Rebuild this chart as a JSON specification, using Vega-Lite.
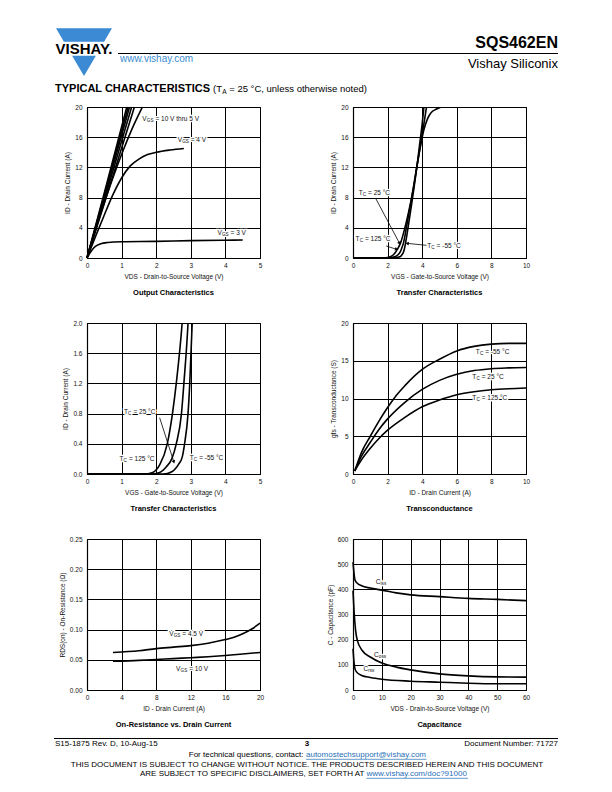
{
"$schema": "https://vega.github.io/schema/vega-lite/v6.json",
"padding": 0,
"background": "white",
"columns": 2,
"spacing": {"row": 65, "column": 93},
"bounds": "flush",
"datasets": {
"out": [
{"s":"10","x":0,"y":0},{"s":"10","x":0.58,"y":10},{"s":"10","x":1.15,"y":20},
{"s":"9","x":0,"y":0},{"s":"9","x":0.6,"y":10},{"s":"9","x":1.19,"y":20},
{"s":"8","x":0,"y":0},{"s":"8","x":0.62,"y":10},{"s":"8","x":1.23,"y":20},
{"s":"7","x":0,"y":0},{"s":"7","x":0.65,"y":10},{"s":"7","x":1.29,"y":20},
{"s":"6","x":0,"y":0},{"s":"6","x":0.69,"y":10},{"s":"6","x":1.37,"y":20},
{"s":"5","x":0,"y":0},{"s":"5","x":0.35,"y":5.2},{"s":"5","x":0.7,"y":10},{"s":"5","x":1.05,"y":14.3},{"s":"5","x":1.35,"y":17.6},{"s":"5","x":1.6,"y":20},
{"s":"4","x":0,"y":0},{"s":"4","x":0.25,"y":2.9},{"s":"4","x":0.5,"y":5.7},{"s":"4","x":0.75,"y":8.4},{"s":"4","x":1.0,"y":10.6},{"s":"4","x":1.25,"y":12.2},{"s":"4","x":1.5,"y":13.1},{"s":"4","x":1.75,"y":13.7},{"s":"4","x":2.0,"y":14.0},{"s":"4","x":2.4,"y":14.3},{"s":"4","x":2.8,"y":14.5},
{"s":"3","x":0,"y":0},{"s":"3","x":0.1,"y":0.75},{"s":"3","x":0.2,"y":1.35},{"s":"3","x":0.3,"y":1.7},{"s":"3","x":0.4,"y":1.9},{"s":"3","x":0.6,"y":2.05},{"s":"3","x":1.0,"y":2.15},{"s":"3","x":2.0,"y":2.2},{"s":"3","x":3.0,"y":2.3},{"s":"3","x":4.0,"y":2.35},{"s":"3","x":4.5,"y":2.38}
],
"outLab": [
{"x":1.6,"y":18.4,"pre":"V","sub":"GS","post":"= 10 V thru 5 V"},
{"x":2.62,"y":15.6,"pre":"V","sub":"GS","post":"= 4 V"},
{"x":3.77,"y":3.3,"pre":"V","sub":"GS","post":"= 3 V"}
],
"tr": [
{"s":"125","x":0,"y":0},{"s":"125","x":1.7,"y":0},{"s":"125","x":1.9,"y":0.02},{"s":"125","x":2.1,"y":0.12},{"s":"125","x":2.32,"y":0.4},{"s":"125","x":2.47,"y":0.8},{"s":"125","x":2.58,"y":1.2},{"s":"125","x":2.75,"y":2.0},{"s":"125","x":3.0,"y":4.0},{"s":"125","x":3.3,"y":7.0},{"s":"125","x":3.5,"y":9.3},{"s":"125","x":3.7,"y":12.2},{"s":"125","x":3.9,"y":14.8},{"s":"125","x":4.1,"y":17.0},{"s":"125","x":4.3,"y":18.4},{"s":"125","x":4.5,"y":19.2},{"s":"125","x":4.8,"y":19.7},{"s":"125","x":5.1,"y":20},
{"s":"25","x":0,"y":0},{"s":"25","x":1.9,"y":0},{"s":"25","x":2.1,"y":0.02},{"s":"25","x":2.3,"y":0.1},{"s":"25","x":2.45,"y":0.2},{"s":"25","x":2.58,"y":0.4},{"s":"25","x":2.73,"y":0.8},{"s":"25","x":2.8,"y":1.2},{"s":"25","x":2.92,"y":2.0},{"s":"25","x":3.1,"y":4.2},{"s":"25","x":3.3,"y":6.8},{"s":"25","x":3.5,"y":9.5},{"s":"25","x":3.7,"y":12.2},{"s":"25","x":3.9,"y":15.0},{"s":"25","x":4.1,"y":17.8},{"s":"25","x":4.25,"y":20},
{"s":"-55","x":0,"y":0},{"s":"-55","x":2.2,"y":0},{"s":"-55","x":2.45,"y":0.03},{"s":"-55","x":2.65,"y":0.13},{"s":"-55","x":2.75,"y":0.22},{"s":"-55","x":2.82,"y":0.4},{"s":"-55","x":2.92,"y":0.8},{"s":"-55","x":2.97,"y":1.2},{"s":"-55","x":3.04,"y":2.0},{"s":"-55","x":3.2,"y":4.3},{"s":"-55","x":3.4,"y":7.3},{"s":"-55","x":3.55,"y":9.7},{"s":"-55","x":3.7,"y":12.2},{"s":"-55","x":3.85,"y":15.0},{"s":"-55","x":4.0,"y":17.8},{"s":"-55","x":4.1,"y":20}
],
"trLab2": [
{"x":0.33,"y":8.57,"pre":"T","sub":"C","post":"= 25 °C"},
{"x":0.15,"y":2.56,"pre":"T","sub":"C","post":"= 125 °C"},
{"x":4.29,"y":1.6,"pre":"T","sub":"C","post":"= -55 °C"}
],
"trArr2": [
{"x":1.31,"y":7.9,"x2":2.69,"y2":1.94},
{"x":1.92,"y":1.59,"x2":2.52,"y2":1.15},
{"x":4.25,"y":1.68,"x2":3.13,"y2":1.94}
],
"trLab3": [
{"x":1.07,"y":0.815,"pre":"T","sub":"C","post":"= 25 °C"},
{"x":0.94,"y":0.2,"pre":"T","sub":"C","post":"= 125 °C"},
{"x":2.97,"y":0.21,"pre":"T","sub":"C","post":"= -55 °C"}
],
"trArr3": [
{"x":2.1,"y":0.745,"x2":2.51,"y2":0.16}
],
"gfs": [
{"s":"-55","x":0.1,"y":0.4},{"s":"-55","x":0.5,"y":2.9},{"s":"-55","x":1,"y":5.0},{"s":"-55","x":1.5,"y":7.0},{"s":"-55","x":2,"y":8.8},{"s":"-55","x":2.5,"y":10.4},{"s":"-55","x":3,"y":11.7},{"s":"-55","x":4,"y":13.85},{"s":"-55","x":5,"y":15.2},{"s":"-55","x":6,"y":16.3},{"s":"-55","x":7,"y":16.9},{"s":"-55","x":8,"y":17.2},{"s":"-55","x":9,"y":17.3},{"s":"-55","x":10,"y":17.3},
{"s":"25","x":0.1,"y":0.4},{"s":"25","x":0.5,"y":2.4},{"s":"25","x":1,"y":4.2},{"s":"25","x":1.5,"y":5.9},{"s":"25","x":2,"y":7.3},{"s":"25","x":3,"y":9.5},{"s":"25","x":4,"y":11.2},{"s":"25","x":5,"y":12.4},{"s":"25","x":6,"y":13.2},{"s":"25","x":7,"y":13.7},{"s":"25","x":8,"y":13.95},{"s":"25","x":9,"y":14.05},{"s":"25","x":10,"y":14.1},
{"s":"125","x":0.1,"y":0.4},{"s":"125","x":0.5,"y":1.9},{"s":"125","x":1,"y":3.4},{"s":"125","x":1.5,"y":4.7},{"s":"125","x":2,"y":5.8},{"s":"125","x":3,"y":7.5},{"s":"125","x":4,"y":8.9},{"s":"125","x":5,"y":9.8},{"s":"125","x":6,"y":10.5},{"s":"125","x":7,"y":10.9},{"s":"125","x":8,"y":11.15},{"s":"125","x":9,"y":11.3},{"s":"125","x":10,"y":11.4}
],
"gfsLab": [
{"x":7.1,"y":16.1,"pre":"T","sub":"C","post":"= -55 °C"},
{"x":6.9,"y":12.9,"pre":"T","sub":"C","post":"= 25 °C"},
{"x":6.9,"y":10.07,"pre":"T","sub":"C","post":"= 125 °C"}
],
"rds": [
{"s":"4.5","x":3,"y":0.0622},{"s":"4.5","x":6,"y":0.065},{"s":"4.5","x":8,"y":0.0685},{"s":"4.5","x":10,"y":0.071},{"s":"4.5","x":12,"y":0.0735},{"s":"4.5","x":14,"y":0.0775},{"s":"4.5","x":16,"y":0.0835},{"s":"4.5","x":17,"y":0.0875},{"s":"4.5","x":18,"y":0.093},{"s":"4.5","x":19,"y":0.1005},{"s":"4.5","x":20,"y":0.1106},
{"s":"10","x":3,"y":0.0475},{"s":"10","x":6,"y":0.049},{"s":"10","x":8,"y":0.0505},{"s":"10","x":10,"y":0.052},{"s":"10","x":12,"y":0.0535},{"s":"10","x":14,"y":0.055},{"s":"10","x":16,"y":0.057},{"s":"10","x":18,"y":0.0595},{"s":"10","x":20,"y":0.0622}
],
"rdsLab": [
{"x":9.5,"y":0.0928,"pre":"V","sub":"GS","post":"= 4.5 V"},
{"x":10.3,"y":0.0344,"pre":"V","sub":"GS","post":"= 10 V"}
],
"cap": [
{"s":"Ciss","x":0,"y":508},{"s":"Ciss","x":0.3,"y":470},{"s":"Ciss","x":0.7,"y":437},{"s":"Ciss","x":1.5,"y":424},{"s":"Ciss","x":3,"y":414},{"s":"Ciss","x":6,"y":405},{"s":"Ciss","x":10,"y":397},{"s":"Ciss","x":15,"y":386},{"s":"Ciss","x":20,"y":378},{"s":"Ciss","x":30,"y":371},{"s":"Ciss","x":40,"y":364},{"s":"Ciss","x":50,"y":360},{"s":"Ciss","x":60,"y":355},
{"s":"Coss","x":0,"y":395},{"s":"Coss","x":0.35,"y":317},{"s":"Coss","x":0.9,"y":237},{"s":"Coss","x":1.5,"y":197},{"s":"Coss","x":3.2,"y":157},{"s":"Coss","x":6,"y":131},{"s":"Coss","x":10,"y":107},{"s":"Coss","x":15,"y":91},{"s":"Coss","x":20,"y":80},{"s":"Coss","x":30,"y":64},{"s":"Coss","x":40,"y":56},{"s":"Coss","x":50,"y":52},{"s":"Coss","x":60,"y":51},
{"s":"Crss","x":0,"y":164},{"s":"Crss","x":0.3,"y":117},{"s":"Crss","x":0.7,"y":84},{"s":"Crss","x":1.3,"y":71},{"s":"Crss","x":3,"y":58},{"s":"Crss","x":6,"y":50},{"s":"Crss","x":10,"y":43},{"s":"Crss","x":20,"y":35},{"s":"Crss","x":30,"y":31},{"s":"Crss","x":40,"y":27},{"s":"Crss","x":50,"y":25},{"s":"Crss","x":60,"y":25}
],
"capLab": [
{"x":7.9,"y":431,"pre":"C","sub":"iss"},
{"x":7.3,"y":141,"pre":"C","sub":"oss"},
{"x":3.6,"y":84,"pre":"C","sub":"rss"}
]
},
"concat": [
{
"width": 173, "height": 1, "view": {"stroke": null},
"data": {"values": [{}]},
"layer": [
{"mark": {"type": "rule", "stroke": "white", "strokeWidth": 0.2}, "encoding": {"x": {"value": -86}, "x2": {"value": 526}, "y": {"value": -40}}},
{"mark": {"type": "point", "shape": "M-1,-0.852L1,-0.852L0.718,-0.373L-0.718,-0.373Z M-0.425,0.127L0.425,0.127L0,0.852Z", "size": 3136, "filled": true, "fill": "#3b8ad3", "opacity": 1, "strokeWidth": 0}, "encoding": {"x": {"value": -3}, "y": {"value": 11.15}}},
{"mark": {"type": "text", "text": "VISHAY.", "align": "center", "baseline": "alphabetic", "fontSize": 15, "fontWeight": "bold", "color": "#000"}, "encoding": {"x": {"value": -3}, "y": {"value": 13.3}}},
{"mark": {"type": "text", "text": "www.vishay.com", "align": "left", "baseline": "middle", "fontSize": 10, "color": "#3a8bd0"}, "encoding": {"x": {"value": 33}, "y": {"value": 18}}},
{"mark": {"type": "rule", "stroke": "#000", "strokeWidth": 1}, "encoding": {"x": {"value": 31}, "x2": {"value": 471}, "y": {"value": 12.5}}},
{"mark": {"type": "text", "text": "TYPICAL CHARACTERISTICS", "align": "left", "baseline": "middle", "fontSize": 11, "fontWeight": "bold", "color": "#000"}, "encoding": {"x": {"value": -32}, "y": {"value": 48}}},
{"mark": {"type": "text", "text": "(T", "align": "left", "baseline": "middle", "fontSize": 9.5, "color": "#000"}, "encoding": {"x": {"value": 126}, "y": {"value": 48}}},
{"mark": {"type": "text", "text": "A", "align": "left", "baseline": "middle", "fontSize": 6.5, "dx": 9.2, "dy": 2.5, "color": "#000"}, "encoding": {"x": {"value": 126}, "y": {"value": 48}}},
{"mark": {"type": "text", "text": "= 25 °C, unless otherwise noted)", "align": "left", "baseline": "middle", "fontSize": 9.5, "dx": 16.2, "color": "#000"}, "encoding": {"x": {"value": 126}, "y": {"value": 48}}}
]
},
{
"width": 173, "height": 1, "view": {"stroke": null},
"data": {"values": [{}]},
"layer": [
{"mark": {"type": "text", "text": "SQS462EN", "align": "right", "baseline": "alphabetic", "fontSize": 16, "fontWeight": "bold", "color": "#000"}, "encoding": {"x": {"value": 205}, "y": {"value": 6.7}}},
{"mark": {"type": "text", "text": "Vishay Siliconix", "align": "right", "baseline": "alphabetic", "fontSize": 13, "color": "#000"}, "encoding": {"x": {"value": 205}, "y": {"value": 26.7}}}
]
},
{
"width": 173, "height": 151,
"title": "Output Characteristics",
"encoding": {
"x": {"field": "x", "type": "quantitative", "scale": {"domain": [0, 5], "nice": false}, "axis": {"values": [0, 1, 2, 3, 4, 5], "title": "VDS - Drain-to-Source Voltage (V)"}},
"y": {"field": "y", "type": "quantitative", "scale": {"domain": [0, 20], "nice": false}, "axis": {"values": [0, 4, 8, 12, 16, 20], "title": "ID - Drain Current (A)"}}
},
"layer": [
{"data": {"name": "out"}, "mark": {"type": "line"}, "encoding": {"detail": {"field": "s"}}},
{"data": {"name": "outLab"}, "mark": {"type": "text", "align": "left", "baseline": "middle", "fontSize": 6.5, "fill": "white", "stroke": "white", "strokeWidth": 2.6}, "encoding": {"text": {"field": "pre"}}},
{"data": {"name": "outLab"}, "mark": {"type": "text", "align": "left", "baseline": "middle", "fontSize": 4.6, "dx": 4.5, "dy": 2, "fill": "white", "stroke": "white", "strokeWidth": 2.6}, "encoding": {"text": {"field": "sub"}}},
{"data": {"name": "outLab"}, "mark": {"type": "text", "align": "left", "baseline": "middle", "fontSize": 6.5, "dx": 13.1, "fill": "white", "stroke": "white", "strokeWidth": 2.6}, "encoding": {"text": {"field": "post"}}},
{"data": {"name": "outLab"}, "mark": {"type": "text", "align": "left", "baseline": "middle", "fontSize": 6.5}, "encoding": {"text": {"field": "pre"}}},
{"data": {"name": "outLab"}, "mark": {"type": "text", "align": "left", "baseline": "middle", "fontSize": 4.6, "dx": 4.5, "dy": 2}, "encoding": {"text": {"field": "sub"}}},
{"data": {"name": "outLab"}, "mark": {"type": "text", "align": "left", "baseline": "middle", "fontSize": 6.5, "dx": 13.1}, "encoding": {"text": {"field": "post"}}}
]
},
{
"width": 173, "height": 151,
"title": "Transfer Characteristics",
"encoding": {
"x": {"field": "x", "type": "quantitative", "scale": {"domain": [0, 10], "nice": false}, "axis": {"values": [0, 2, 4, 6, 8, 10], "title": "VGS - Gate-to-Source Voltage (V)"}},
"y": {"field": "y", "type": "quantitative", "scale": {"domain": [0, 20], "nice": false}, "axis": {"values": [0, 4, 8, 12, 16, 20], "title": "ID - Drain Current (A)"}}
},
"layer": [
{"data": {"name": "tr"}, "mark": {"type": "line", "clip": true}, "encoding": {"detail": {"field": "s"}}},
{"data": {"name": "trArr2"}, "mark": {"type": "rule", "stroke": "#000", "strokeWidth": 0.8}, "encoding": {"x2": {"field": "x2"}, "y2": {"field": "y2"}}},
{"data": {"name": "trArr2"}, "transform": [{"calculate": "atan2((datum.x2-datum.x)*17.3,(datum.y2-datum.y)*7.55)*180/PI", "as": "a"}], "mark": {"type": "point", "shape": "triangle-up", "filled": true, "size": 14, "color": "#000", "opacity": 1}, "encoding": {"x": {"field": "x2", "type": "quantitative"}, "y": {"field": "y2", "type": "quantitative"}, "angle": {"field": "a", "type": "quantitative", "scale": null}}},
{"data": {"name": "trLab2"}, "mark": {"type": "text", "align": "left", "baseline": "middle", "fontSize": 6.5, "fill": "white", "stroke": "white", "strokeWidth": 2.6}, "encoding": {"text": {"field": "pre"}}},
{"data": {"name": "trLab2"}, "mark": {"type": "text", "align": "left", "baseline": "middle", "fontSize": 4.6, "dx": 4.1, "dy": 2, "fill": "white", "stroke": "white", "strokeWidth": 2.6}, "encoding": {"text": {"field": "sub"}}},
{"data": {"name": "trLab2"}, "mark": {"type": "text", "align": "left", "baseline": "middle", "fontSize": 6.5, "dx": 9.4, "fill": "white", "stroke": "white", "strokeWidth": 2.6}, "encoding": {"text": {"field": "post"}}},
{"data": {"name": "trLab2"}, "mark": {"type": "text", "align": "left", "baseline": "middle", "fontSize": 6.5}, "encoding": {"text": {"field": "pre"}}},
{"data": {"name": "trLab2"}, "mark": {"type": "text", "align": "left", "baseline": "middle", "fontSize": 4.6, "dx": 4.1, "dy": 2}, "encoding": {"text": {"field": "sub"}}},
{"data": {"name": "trLab2"}, "mark": {"type": "text", "align": "left", "baseline": "middle", "fontSize": 6.5, "dx": 9.4}, "encoding": {"text": {"field": "post"}}}
]
},
{
"width": 173, "height": 151,
"title": "Transfer Characteristics",
"encoding": {
"x": {"field": "x", "type": "quantitative", "scale": {"domain": [0, 5], "nice": false}, "axis": {"values": [0, 1, 2, 3, 4, 5], "title": "VGS - Gate-to-Source Voltage (V)"}},
"y": {"field": "y", "type": "quantitative", "scale": {"domain": [0, 2], "nice": false}, "axis": {"values": [0, 0.4, 0.8, 1.2, 1.6, 2.0], "format": ".1f", "title": "ID - Drain Current (A)"}}
},
"layer": [
{"data": {"name": "tr"}, "mark": {"type": "line", "clip": true}, "encoding": {"detail": {"field": "s"}}},
{"data": {"name": "trArr3"}, "mark": {"type": "rule", "stroke": "#000", "strokeWidth": 0.8}, "encoding": {"x2": {"field": "x2"}, "y2": {"field": "y2"}}},
{"data": {"name": "trArr3"}, "transform": [{"calculate": "atan2((datum.x2-datum.x)*34.6,(datum.y2-datum.y)*75.5)*180/PI", "as": "a"}], "mark": {"type": "point", "shape": "triangle-up", "filled": true, "size": 14, "color": "#000", "opacity": 1}, "encoding": {"x": {"field": "x2", "type": "quantitative"}, "y": {"field": "y2", "type": "quantitative"}, "angle": {"field": "a", "type": "quantitative", "scale": null}}},
{"data": {"name": "trLab3"}, "mark": {"type": "text", "align": "left", "baseline": "middle", "fontSize": 6.5, "fill": "white", "stroke": "white", "strokeWidth": 2.6}, "encoding": {"text": {"field": "pre"}}},
{"data": {"name": "trLab3"}, "mark": {"type": "text", "align": "left", "baseline": "middle", "fontSize": 4.6, "dx": 4.1, "dy": 2, "fill": "white", "stroke": "white", "strokeWidth": 2.6}, "encoding": {"text": {"field": "sub"}}},
{"data": {"name": "trLab3"}, "mark": {"type": "text", "align": "left", "baseline": "middle", "fontSize": 6.5, "dx": 9.4, "fill": "white", "stroke": "white", "strokeWidth": 2.6}, "encoding": {"text": {"field": "post"}}},
{"data": {"name": "trLab3"}, "mark": {"type": "text", "align": "left", "baseline": "middle", "fontSize": 6.5}, "encoding": {"text": {"field": "pre"}}},
{"data": {"name": "trLab3"}, "mark": {"type": "text", "align": "left", "baseline": "middle", "fontSize": 4.6, "dx": 4.1, "dy": 2}, "encoding": {"text": {"field": "sub"}}},
{"data": {"name": "trLab3"}, "mark": {"type": "text", "align": "left", "baseline": "middle", "fontSize": 6.5, "dx": 9.4}, "encoding": {"text": {"field": "post"}}}
]
},
{
"width": 173, "height": 151,
"title": "Transconductance",
"encoding": {
"x": {"field": "x", "type": "quantitative", "scale": {"domain": [0, 10], "nice": false}, "axis": {"values": [0, 2, 4, 6, 8, 10], "title": "ID - Drain Current (A)"}},
"y": {"field": "y", "type": "quantitative", "scale": {"domain": [0, 20], "nice": false}, "axis": {"values": [0, 5, 10, 15, 20], "title": "gfs - Transconductance (S)"}}
},
"layer": [
{"data": {"name": "gfs"}, "mark": {"type": "line"}, "encoding": {"detail": {"field": "s"}}},
{"data": {"name": "gfsLab"}, "mark": {"type": "text", "align": "left", "baseline": "middle", "fontSize": 6.5, "fill": "white", "stroke": "white", "strokeWidth": 2.6}, "encoding": {"text": {"field": "pre"}}},
{"data": {"name": "gfsLab"}, "mark": {"type": "text", "align": "left", "baseline": "middle", "fontSize": 4.6, "dx": 4.1, "dy": 2, "fill": "white", "stroke": "white", "strokeWidth": 2.6}, "encoding": {"text": {"field": "sub"}}},
{"data": {"name": "gfsLab"}, "mark": {"type": "text", "align": "left", "baseline": "middle", "fontSize": 6.5, "dx": 9.4, "fill": "white", "stroke": "white", "strokeWidth": 2.6}, "encoding": {"text": {"field": "post"}}},
{"data": {"name": "gfsLab"}, "mark": {"type": "text", "align": "left", "baseline": "middle", "fontSize": 6.5}, "encoding": {"text": {"field": "pre"}}},
{"data": {"name": "gfsLab"}, "mark": {"type": "text", "align": "left", "baseline": "middle", "fontSize": 4.6, "dx": 4.1, "dy": 2}, "encoding": {"text": {"field": "sub"}}},
{"data": {"name": "gfsLab"}, "mark": {"type": "text", "align": "left", "baseline": "middle", "fontSize": 6.5, "dx": 9.4}, "encoding": {"text": {"field": "post"}}}
]
},
{
"width": 173, "height": 151,
"title": "On-Resistance vs. Drain Current",
"encoding": {
"x": {"field": "x", "type": "quantitative", "scale": {"domain": [0, 20], "nice": false}, "axis": {"values": [0, 4, 8, 12, 16, 20], "title": "ID - Drain Current (A)"}},
"y": {"field": "y", "type": "quantitative", "scale": {"domain": [0, 0.25], "nice": false}, "axis": {"values": [0, 0.05, 0.1, 0.15, 0.2, 0.25], "format": ".2f", "title": "RDS(on) - On-Resistance (Ω)"}}
},
"layer": [
{"data": {"name": "rds"}, "mark": {"type": "line"}, "encoding": {"detail": {"field": "s"}}},
{"data": {"name": "rdsLab"}, "mark": {"type": "text", "align": "left", "baseline": "middle", "fontSize": 6.5, "fill": "white", "stroke": "white", "strokeWidth": 2.6}, "encoding": {"text": {"field": "pre"}}},
{"data": {"name": "rdsLab"}, "mark": {"type": "text", "align": "left", "baseline": "middle", "fontSize": 4.6, "dx": 4.5, "dy": 2, "fill": "white", "stroke": "white", "strokeWidth": 2.6}, "encoding": {"text": {"field": "sub"}}},
{"data": {"name": "rdsLab"}, "mark": {"type": "text", "align": "left", "baseline": "middle", "fontSize": 6.5, "dx": 13.1, "fill": "white", "stroke": "white", "strokeWidth": 2.6}, "encoding": {"text": {"field": "post"}}},
{"data": {"name": "rdsLab"}, "mark": {"type": "text", "align": "left", "baseline": "middle", "fontSize": 6.5}, "encoding": {"text": {"field": "pre"}}},
{"data": {"name": "rdsLab"}, "mark": {"type": "text", "align": "left", "baseline": "middle", "fontSize": 4.6, "dx": 4.5, "dy": 2}, "encoding": {"text": {"field": "sub"}}},
{"data": {"name": "rdsLab"}, "mark": {"type": "text", "align": "left", "baseline": "middle", "fontSize": 6.5, "dx": 13.1}, "encoding": {"text": {"field": "post"}}}
]
},
{
"width": 173, "height": 151,
"title": "Capacitance",
"encoding": {
"x": {"field": "x", "type": "quantitative", "scale": {"domain": [0, 60], "nice": false}, "axis": {"values": [0, 10, 20, 30, 40, 50, 60], "title": "VDS - Drain-to-Source Voltage (V)"}},
"y": {"field": "y", "type": "quantitative", "scale": {"domain": [0, 600], "nice": false}, "axis": {"values": [0, 100, 200, 300, 400, 500, 600], "title": "C - Capacitance (pF)"}}
},
"layer": [
{"data": {"name": "cap"}, "mark": {"type": "line"}, "encoding": {"detail": {"field": "s"}}},
{"data": {"name": "capLab"}, "mark": {"type": "text", "align": "left", "baseline": "middle", "fontSize": 6.5, "fill": "white", "stroke": "white", "strokeWidth": 2.6}, "encoding": {"text": {"field": "pre"}}},
{"data": {"name": "capLab"}, "mark": {"type": "text", "align": "left", "baseline": "middle", "fontSize": 4.6, "dx": 4.8, "dy": 2, "fill": "white", "stroke": "white", "strokeWidth": 2.6}, "encoding": {"text": {"field": "sub"}}},
{"data": {"name": "capLab"}, "mark": {"type": "text", "align": "left", "baseline": "middle", "fontSize": 6.5}, "encoding": {"text": {"field": "pre"}}},
{"data": {"name": "capLab"}, "mark": {"type": "text", "align": "left", "baseline": "middle", "fontSize": 4.6, "dx": 4.8, "dy": 2}, "encoding": {"text": {"field": "sub"}}}
]
},
{
"width": 173, "height": 1, "view": {"stroke": null},
"data": {"values": [{}]},
"layer": [
{"mark": {"type": "rule", "stroke": "white", "strokeWidth": 0.2}, "encoding": {"x": {"value": -86}, "x2": {"value": 526}, "y": {"value": 38}}},
{"mark": {"type": "rule", "stroke": "#000", "strokeWidth": 1}, "encoding": {"x": {"value": -33}, "x2": {"value": 471}, "y": {"value": -16.5}}},
{"mark": {"type": "text", "text": "S15-1875 Rev. D, 10-Aug-15", "align": "left", "baseline": "middle", "fontSize": 8, "color": "#000"}, "encoding": {"x": {"value": -32}, "y": {"value": -10.7}}},
{"mark": {"type": "text", "text": "3", "align": "center", "baseline": "middle", "fontSize": 8, "fontWeight": "bold", "color": "#000"}, "encoding": {"x": {"value": 220}, "y": {"value": -10.7}}},
{"mark": {"type": "text", "text": "For technical questions, contact:", "align": "right", "baseline": "middle", "fontSize": 8, "color": "#000"}, "encoding": {"x": {"value": 216.5}, "y": {"value": 0.3}}},
{"mark": {"type": "text", "text": "automostechsupport@vishay.com", "align": "left", "baseline": "middle", "fontSize": 8, "color": "#1f6fb8"}, "encoding": {"x": {"value": 219}, "y": {"value": 0.3}}},
{"mark": {"type": "rule", "stroke": "#1f6fb8", "strokeWidth": 0.7}, "encoding": {"x": {"value": 219}, "x2": {"value": 339.5}, "y": {"value": 4.3}}},
{"mark": {"type": "text", "text": "THIS DOCUMENT IS SUBJECT TO CHANGE WITHOUT NOTICE. THE PRODUCTS DESCRIBED HEREIN AND THIS DOCUMENT", "align": "center", "baseline": "middle", "fontSize": 8, "color": "#000"}, "encoding": {"x": {"value": 220}, "y": {"value": 10.3}}},
{"mark": {"type": "text", "text": "ARE SUBJECT TO SPECIFIC DISCLAIMERS, SET FORTH AT", "align": "right", "baseline": "middle", "fontSize": 8, "color": "#000"}, "encoding": {"x": {"value": 277.5}, "y": {"value": 19.3}}},
{"mark": {"type": "text", "text": "www.vishay.com/doc?91000", "align": "left", "baseline": "middle", "fontSize": 8, "color": "#1f6fb8"}, "encoding": {"x": {"value": 279.5}, "y": {"value": 19.3}}},
{"mark": {"type": "rule", "stroke": "#1f6fb8", "strokeWidth": 0.7}, "encoding": {"x": {"value": 279.5}, "x2": {"value": 381}, "y": {"value": 23.3}}}
]
},
{
"width": 173, "height": 1, "view": {"stroke": null},
"data": {"values": [{}]},
"layer": [
{"mark": {"type": "text", "text": "Document Number: 71727", "align": "right", "baseline": "middle", "fontSize": 8, "color": "#000"}, "encoding": {"x": {"value": 205}, "y": {"value": -10.7}}}
]
}
],
"config": {
"font": "Liberation Sans",
"view": {"stroke": "#000", "strokeWidth": 1},
"axis": {"grid": true, "gridColor": "#000", "gridOpacity": 1, "gridWidth": 1, "domainColor": "#000", "domainWidth": 1.2, "ticks": false, "labelFontSize": 6.5, "labelColor": "#111", "labelPadding": 4, "labelFlush": false, "labelOverlap": false, "titleFontSize": 6.5, "titleFontWeight": "normal", "titleColor": "#111"},
"axisX": {"titlePadding": 5},
"axisY": {"titlePadding": 4, "labelPadding": 5},
"title": {"orient": "bottom", "frame": "group", "offset": 9, "fontSize": 7.5, "fontWeight": "bold", "color": "#000"},
"line": {"color": "#000", "strokeWidth": 1.6, "interpolate": "monotone"},
"text": {"color": "#111"}
}
}
